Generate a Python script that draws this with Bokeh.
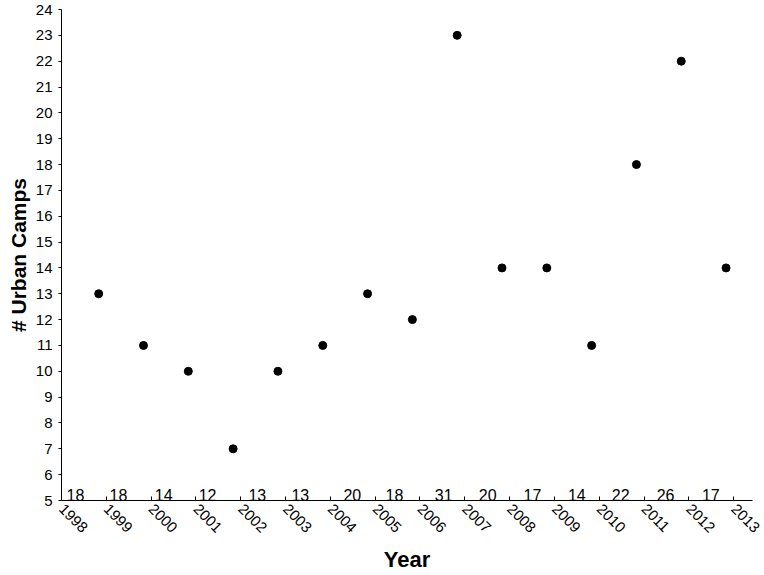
import math
from bokeh.plotting import figure
from bokeh.models import ColumnDataSource, FixedTicker, Range1d
from bokeh.transform import dodge
from bokeh.core.properties import value
from bokeh.embed import file_html
from bokeh.resources import INLINE

# Data
years = [1999, 2000, 2001, 2002, 2003, 2004, 2005, 2006, 2007, 2008, 2009, 2010, 2011, 2012, 2013]
urban_camps = [13, 11, 10, 7, 10, 11, 13, 12, 23, 14, 14, 11, 18, 22, 14]
tick_years = list(range(1998, 2014))
tick_labels = [str(y) for y in tick_years]
counts = [18, 18, 14, 12, 13, 13, 20, 18, 31, 20, 17, 14, 22, 26, 17]
count_x = [1998.31, 1999.27, 2000.28, 2001.26, 2002.37, 2003.33, 2004.49, 2005.43,
           2006.53, 2007.51, 2008.51, 2009.50, 2010.48, 2011.48, 2012.49]

FONT = "Liberation Sans"

p = figure(width=764, height=575, output_backend="svg", toolbar_location=None,
           x_range=Range1d(1998, 2013.42), y_range=Range1d(5, 24),
           min_border_left=61, min_border_right=12, min_border_top=9, min_border_bottom=75)
p.outline_line_color = None
p.grid.visible = False
p.background_fill_color = "white"
p.border_fill_color = "white"

src = ColumnDataSource(dict(year=years, camps=urban_camps))
p.scatter(x=dodge("year", -0.17, range=p.x_range), y="camps", source=src,
          size=8, color="black")

csrc = ColumnDataSource(dict(x=count_x, y=[5] * len(counts), t=[str(c) for c in counts]))
p.text(x="x", y="y", text="t", source=csrc, text_align="center",
       text_baseline="alphabetic", y_offset=-6, text_font_size=value("16px"),
       text_font=value(FONT), text_color="black")

# x axis
xa = p.xaxis[0]
xa.ticker = FixedTicker(ticks=tick_years)
xa.major_label_overrides = {y: l for y, l in zip(tick_years, tick_labels)}
xa.major_label_orientation = -math.pi / 4
xa.major_tick_in = 4
xa.major_tick_out = 0
xa.minor_tick_line_color = None
xa.major_label_standoff = 6
xa.axis_label = "Year"
xa.axis_label_text_font = FONT
xa.axis_label_text_font_style = "bold"
xa.axis_label_text_font_size = "22px"
xa.axis_label_text_color = "black"
xa.axis_label_standoff = 7
xa.major_label_text_font = FONT
xa.major_label_text_font_size = "15px"
xa.axis_line_color = "black"
xa.major_tick_line_color = "black"
xa.major_label_text_color = "black"

# y axis
ya = p.yaxis[0]
ya.ticker = FixedTicker(ticks=list(range(5, 25)))
ya.major_tick_in = 0
ya.major_tick_out = 3
ya.minor_tick_line_color = None
ya.major_label_standoff = 6
ya.axis_label = "# Urban Camps"
ya.axis_label_text_font = FONT
ya.axis_label_text_font_style = "bold"
ya.axis_label_text_font_size = "21px"
ya.axis_label_text_color = "black"
ya.axis_label_standoff = 3
ya.major_label_text_font = FONT
ya.major_label_text_font_size = "15px"
ya.axis_line_color = "black"
ya.major_tick_line_color = "black"
ya.major_label_text_color = "black"

open("out.html", "w").write(file_html(p, INLINE))
